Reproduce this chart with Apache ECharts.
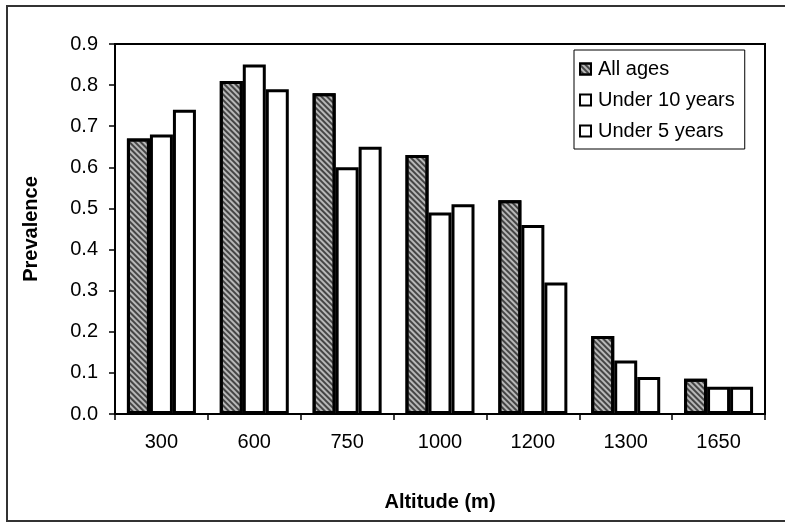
<!DOCTYPE html>
<html>
<head>
<meta charset="utf-8">
<script src="https://cdn.jsdelivr.net/npm/echarts@6/dist/echarts.min.js"></script>
<style>html,body{margin:0;padding:0;background:#fff}#c{width:785px;height:523px}</style>
</head>
<body>
<div id="c"></div>
<script>
const categories = ['300', '600', '750', '1000', '1200', '1300', '1650'];
const allAges = [0.67, 0.81, 0.78, 0.63, 0.52, 0.19, 0.086];
const under10 = [0.68, 0.85, 0.60, 0.49, 0.46, 0.13, 0.066];
const under5 = [0.74, 0.79, 0.65, 0.51, 0.32, 0.09, 0.066];
const seriesNames = ['All ages', 'Under 10 years', 'Under 5 years'];
const yTicks = {min: 0, max: 0.9, interval: 0.1};

const FONT = 'Liberation Sans, Arial, sans-serif';
const chart = echarts.init(document.getElementById('c'), null, {renderer: 'canvas'});
const hatch = {
  symbol: 'rect',
  color: 'rgba(40,40,40,0.8)',
  dashArrayX: [1, 0],
  dashArrayY: [1.5, 1.8],
  rotation: Math.PI / 4,
  symbolSize: 1
};
const barStyle = (fill, decal) => ({
  color: fill,
  borderColor: '#000',
  borderWidth: 3,
  decal: decal || null
});
chart.setOption({
  animation: false,
  backgroundColor: '#fff',
  graphic: [{
    type: 'rect',
    shape: {x: 7, y: 6, width: 800, height: 515},
    style: {fill: 'none', stroke: '#333', lineWidth: 2},
    silent: true
  }],
  grid: {left: 115, top: 44, right: 20, bottom: 109, show: true, borderColor: '#000', borderWidth: 2, backgroundColor: 'transparent'},
  legend: {
    orient: 'vertical',
    left: 574, top: 50,
    padding: [9, 10, 8, 5],
    itemGap: 11,
    itemWidth: 11, itemHeight: 11,
    borderColor: '#000', borderWidth: 1,
    icon: 'rect',
    itemStyle: {borderColor: '#000', borderWidth: 2},
    textStyle: {fontFamily: FONT, fontSize: 20, color: '#000', padding: [0, 0, 0, 2]},
    data: seriesNames
  },
  xAxis: {
    type: 'category',
    data: categories,
    axisLine: {lineStyle: {color: '#000', width: 2}},
    axisTick: {show: true, length: 6, lineStyle: {color: '#000', width: 1.5}},
    axisLabel: {fontFamily: FONT, fontSize: 20, color: '#000', margin: 18},
    name: 'Altitude (m)',
    nameLocation: 'middle',
    nameGap: 78,
    nameTextStyle: {fontFamily: FONT, fontSize: 20, fontWeight: 'bold', color: '#000'}
  },
  yAxis: {
    type: 'value',
    min: yTicks.min, max: yTicks.max, interval: yTicks.interval,
    axisLine: {show: true, lineStyle: {color: '#000', width: 2}},
    axisTick: {show: true, length: 6, lineStyle: {color: '#000', width: 1.5}},
    splitLine: {show: false},
    axisLabel: {fontFamily: FONT, fontSize: 20, color: '#000', margin: 17, formatter: v => v.toFixed(1)},
    name: 'Prevalence',
    nameLocation: 'middle',
    nameGap: 74,
    nameRotate: 90,
    nameTextStyle: {fontFamily: FONT, fontSize: 20, fontWeight: 'bold', color: '#000'}
  },
  series: [
    {name: seriesNames[0], type: 'bar', data: allAges, barWidth: 23, barGap: '0%', barCategoryGap: '24%', itemStyle: barStyle('#b8b8b8', hatch)},
    {name: seriesNames[1], type: 'bar', data: under10, barWidth: 23, barGap: '0%', itemStyle: barStyle('#fff')},
    {name: seriesNames[2], type: 'bar', data: under5, barWidth: 23, barGap: '0%', itemStyle: barStyle('#fff')}
  ]
});
</script>
</body>
</html>
